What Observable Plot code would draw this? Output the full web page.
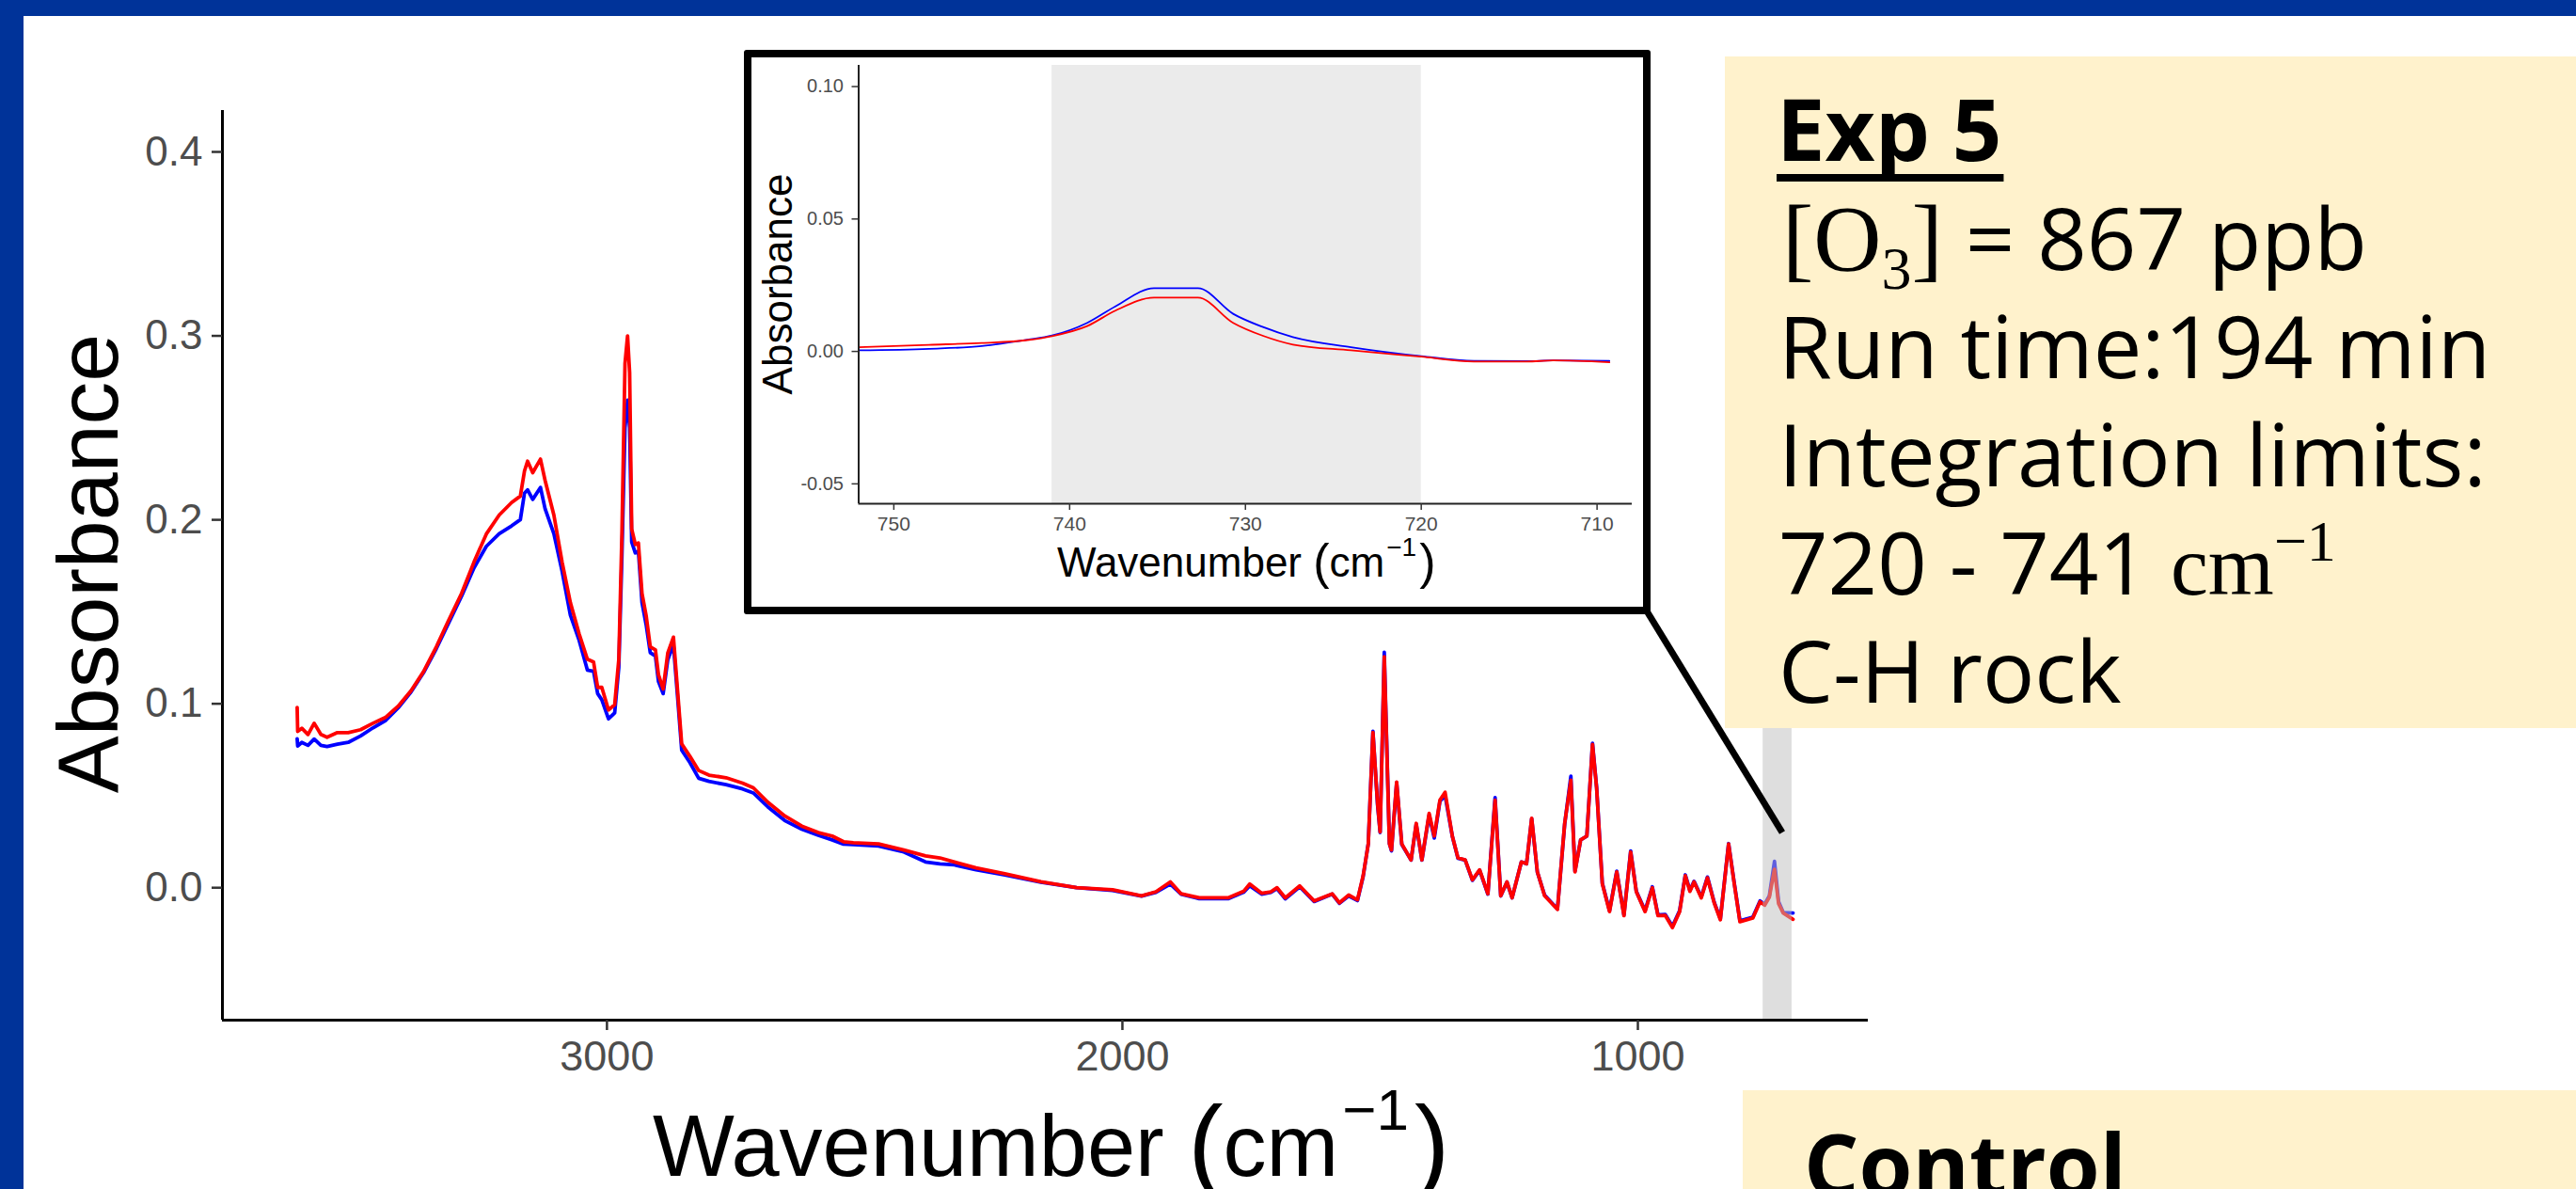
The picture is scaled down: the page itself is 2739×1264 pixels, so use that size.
<!DOCTYPE html>
<html><head><meta charset="utf-8">
<script src="https://cdn.jsdelivr.net/npm/d3@7"></script>
<script src="https://cdn.jsdelivr.net/npm/@observablehq/plot@0.6"></script>
<style>
html,body{margin:0;padding:0;background:#fff;}
#page{position:relative;width:2739px;height:1264px;overflow:hidden;background:#fff;}
.abs{position:absolute;}
</style></head>
<body><div id="page"></div>
<script>
// ---------------- DATA ----------------
// Main spectrum (wavenumber, cm^-1) and absorbance of the two traces
const wavenumber = [
 3601,3600,3592,3580,3568,3555,3543,3523,3502,3478,
 3454,3429,3405,3380,3356,3331,3307,3282,3258,3234,
 3209,3185,3168,3160,3154,3144,3129,3120,3103,3087,
 3071,3054,3038,3026,3018,3010,2997,2985,2977,2971,
 2965,2960,2956,2952,2945,2939,2932,2924,2916,2906,
 2900,2891,2882,2871,2863,2855,2839,2822,2802,2769,
 2737,2716,2688,2655,2622,2590,2563,2541,2522,2473,
 2424,2382,2354,2326,2284,2228,2158,2089,2019,1963,
 1935,1907,1886,1851,1795,1765,1753,1730,1712,1700,
 1684,1656,1628,1593,1579,1561,1544,1533,1523,1514,
 1505,1500,1492,1482,1478,1468,1458,1440,1430,1419,
 1405,1395,1384,1374,1360,1349,1335,1321,1307,1291,
 1277,1266,1254,1244,1226,1216,1206,1195,1181,1156,
 1142,1130,1122,1111,1099,1088,1080,1069,1055,1041,
 1027,1014,1003,986,972,961,947,933,919,908,
 899,891,877,865,852,840,824,813,802,777,
 763,754,745,735,727,718,699
];
const absRed = [
 0.098,0.085,0.0867,0.0833,0.0894,0.0833,0.0818,0.0843,0.0843,0.0859,
 0.0894,0.0927,0.0987,0.1071,0.1174,0.1310,0.1455,0.1600,0.1770,0.1923,
 0.2026,0.2094,0.2129,0.2265,0.2319,0.2256,0.2330,0.2214,0.2026,0.1770,
 0.1550,0.1380,0.1242,0.1227,0.1089,0.1089,0.0966,0.0995,0.1242,0.1924,
 0.2850,0.3000,0.2800,0.1950,0.1866,0.1874,0.1600,0.1480,0.1310,0.1293,
 0.1157,0.1080,0.1276,0.1362,0.1071,0.0782,0.0714,0.0637,0.0612,0.0598,
 0.0569,0.0543,0.0465,0.0390,0.0335,0.0300,0.0281,0.0250,0.0245,0.0238,
 0.0205,0.0173,0.0162,0.0140,0.0108,0.0076,0.0032,0.0000,-0.0011,-0.0044,
 -0.0022,0.0032,-0.0033,-0.0055,-0.0055,-0.0020,0.0020,-0.0030,-0.0022,0.0000,
 -0.0055,0.0010,-0.0072,-0.0033,-0.0082,-0.0040,-0.0066,0.0065,0.0238,0.0844,
 0.0455,0.0303,0.1256,0.0238,0.0205,0.0574,0.0238,0.0151,0.0350,0.0151,
 0.0404,0.0281,0.0476,0.0519,0.0281,0.0162,0.0151,0.0043,0.0097,-0.0033,
 0.0476,-0.0044,0.0032,-0.0055,0.0140,0.0130,0.0378,0.0086,-0.0044,-0.0118,
 0.0350,0.0584,0.0086,0.0260,0.0281,0.0779,0.0541,0.0021,-0.0130,0.0086,
 -0.0152,0.0194,-0.0022,-0.0130,0.0000,-0.0152,-0.0150,-0.0217,-0.0130,0.0065,
 -0.0020,0.0032,-0.0055,0.0054,-0.0082,-0.0174,0.0238,0.0021,-0.0185,-0.0165,
 -0.0077,-0.0095,-0.0052,0.0100,-0.0087,-0.0138,-0.0172
];
const absBlue = [
 0.081,0.077,0.0790,0.0774,0.0808,0.0774,0.0768,0.0780,0.0790,0.0825,
 0.0869,0.0910,0.0978,0.1065,0.1168,0.1300,0.1440,0.1585,0.1738,0.1856,
 0.1924,0.1967,0.2001,0.2145,0.2163,0.2111,0.2176,0.2060,0.1924,0.1720,
 0.1482,0.1345,0.1183,0.1176,0.1055,0.1022,0.0918,0.0950,0.1200,0.1800,
 0.2500,0.2650,0.2500,0.1880,0.1820,0.1830,0.1550,0.1430,0.1278,0.1260,
 0.1120,0.1055,0.1240,0.1320,0.1038,0.0748,0.0680,0.0595,0.0578,0.0560,
 0.0537,0.0515,0.0440,0.0365,0.0318,0.0285,0.0260,0.0237,0.0235,0.0227,
 0.0194,0.0140,0.0129,0.0124,0.0097,0.0070,0.0030,0.0000,-0.0015,-0.0046,
 -0.0025,0.0020,-0.0035,-0.0060,-0.0060,-0.0025,0.0010,-0.0035,-0.0025,-0.0005,
 -0.0060,0.0005,-0.0075,-0.0035,-0.0085,-0.0045,-0.0070,0.0060,0.0240,0.0850,
 0.0450,0.0300,0.1280,0.0240,0.0200,0.0570,0.0235,0.0150,0.0345,0.0150,
 0.0395,0.0270,0.0470,0.0500,0.0280,0.0160,0.0150,0.0040,0.0095,-0.0035,
 0.0490,-0.0045,0.0030,-0.0055,0.0140,0.0130,0.0375,0.0085,-0.0040,-0.0115,
 0.0345,0.0606,0.0090,0.0260,0.0280,0.0785,0.0545,0.0025,-0.0125,0.0090,
 -0.0148,0.0200,-0.0020,-0.0125,0.0005,-0.0148,-0.0145,-0.0210,-0.0125,0.0070,
 -0.0015,0.0035,-0.0050,0.0058,-0.0078,-0.0170,0.0240,0.0025,-0.0180,-0.0160,
 -0.0072,-0.0090,-0.0045,0.0143,-0.0075,-0.0135,-0.0138
];
const mainXDomain = [3746, 553];
const mainYDomain = [-0.072, 0.4225];
const mainXTicks = [3000, 2000, 1000];
const mainYTicks = [0, 0.1, 0.2, 0.3, 0.4];
const mainBand = [757, 701];

// Inset (zoom on the C-H rock band)
const insetWavenumber = [752,748,745,742.4,741,739,737.4,735.2,732.7,730.7,729,727.3,724,720,717,714,712.5,709.3];
const insetRed  = [0.0016,0.0025,0.0032,0.0043,0.0058,0.0096,0.0154,0.0203,0.0203,0.0108,0.0059,0.0026,0.0004,-0.0020,-0.0038,-0.0038,-0.0034,-0.0041];
const insetBlue = [0.0004,0.0010,0.0020,0.0044,0.0060,0.0108,0.0170,0.0239,0.0239,0.0142,0.0092,0.0054,0.0016,-0.0018,-0.0036,-0.0037,-0.0034,-0.0036];
const insetXDomain = [752, 708];
const insetYDomain = [-0.0575, 0.108];
const insetXTicks = [750, 740, 730, 720, 710];
const insetYTicks = [-0.05, 0, 0.05, 0.10];
const insetBand = [741, 720];

// Texts
const yTitle = "Absorbance";
const xTitleMain = "Wavenumber ";
const expTitle = "Exp 5";
const ozoneValue = " = 867 ppb";
const runTime = "Run time:194 min";
const integLabel = "Integration limits:";
const integRange = "720 - 741 ";
const modeLabel = "C-H rock";
const controlTitle = "Control";

// ---------------- DRAW ----------------
(function () {
const sans = "'Liberation Sans', Arial, sans-serif";
const serif = "'Liberation Serif', 'DejaVu Serif', serif";
const boxFont = "'Open Sans', 'Noto Sans', sans-serif";
const page = document.getElementById("page");

const mainBlueData = wavenumber.map((w, i) => ({w, a: absBlue[i]}));
const mainRedData = wavenumber.map((w, i) => ({w, a: absRed[i]}));

const mainPlot = Plot.plot({
  width: 2000, height: 1264,
  marginLeft: 236, marginRight: 14, marginTop: 117, marginBottom: 180,
  style: {background: "transparent", fontFamily: sans, color: "#4d4d4d"},
  x: {domain: mainXDomain, label: null},
  y: {domain: mainYDomain, label: null},
  marks: [
    Plot.line(mainBlueData, {x: "w", y: "a", stroke: "#0000ff", strokeWidth: 3.8}),
    Plot.line(mainRedData, {x: "w", y: "a", stroke: "#ff0000", strokeWidth: 3.8}),
    Plot.rect([{x1: mainBand[0], x2: mainBand[1]}], {x1: "x1", x2: "x2", y1: () => mainYDomain[0], y2: () => mainYDomain[1], fill: "#bdbdbd", fillOpacity: 0.5}),
    Plot.ruleX([mainXDomain[0]], {stroke: "#000", strokeWidth: 3}),
    Plot.ruleY([mainYDomain[0]], {stroke: "#000", strokeWidth: 3}),
    Plot.axisX({ticks: mainXTicks, tickSize: 11, tickPadding: 11, tickFormat: d => String(d), fontSize: 45, fill: "#4d4d4d", stroke: "#333", strokeWidth: 2.5, label: null}),
    Plot.axisY({ticks: mainYTicks, tickSize: 11, tickPadding: 10, tickFormat: d => d.toFixed(1), fontSize: 44, fill: "#4d4d4d", stroke: "#333", strokeWidth: 2.5, label: null})
  ]
});
mainPlot.style.position = "absolute"; mainPlot.style.left = "0px"; mainPlot.style.top = "0px";
page.appendChild(mainPlot);

// inset box
const box = document.createElement("div");
box.className = "abs";
Object.assign(box.style, {left: "791px", top: "53px", width: "964px", height: "600px", border: "8px solid #000", boxSizing: "border-box", background: "#fff", borderRadius: "3px"});
page.appendChild(box);

const insetBlueData = insetWavenumber.map((w, i) => ({w, a: insetBlue[i]}));
const insetRedData = insetWavenumber.map((w, i) => ({w, a: insetRed[i]}));
const insetPlot = Plot.plot({
  width: 964, height: 600,
  marginLeft: 121.5, marginRight: 20, marginTop: 16, marginBottom: 118,
  style: {background: "transparent", fontFamily: sans, color: "#4d4d4d"},
  x: {domain: insetXDomain, label: null},
  y: {domain: insetYDomain, label: null},
  marks: [
    Plot.rect([{x1: insetBand[0], x2: insetBand[1]}], {x1: "x1", x2: "x2", y1: () => insetYDomain[0], y2: () => insetYDomain[1], fill: "#ebebeb"}),
    Plot.line(insetBlueData, {x: "w", y: "a", stroke: "#0000ff", strokeWidth: 1.8, curve: "monotone-x"}),
    Plot.line(insetRedData, {x: "w", y: "a", stroke: "#ff0000", strokeWidth: 1.8, curve: "monotone-x"}),
    Plot.ruleX([insetXDomain[0]], {stroke: "#222", strokeWidth: 2}),
    Plot.ruleY([insetYDomain[0]], {stroke: "#222", strokeWidth: 2}),
    Plot.axisX({ticks: insetXTicks, tickSize: 7, tickPadding: 7, tickFormat: d => String(d), fontSize: 21, fill: "#4d4d4d", stroke: "#333", strokeWidth: 1.5, label: null}),
    Plot.axisY({ticks: insetYTicks, tickSize: 7, tickPadding: 9, tickFormat: d => d.toFixed(2), fontSize: 20, fill: "#4d4d4d", stroke: "#333", strokeWidth: 1.5, label: null})
  ]
});
insetPlot.style.position = "absolute"; insetPlot.style.left = "791px"; insetPlot.style.top = "53px";
page.appendChild(insetPlot);

// overlay: titles, connector, text boxes
const svg = d3.create("svg").attr("width", 2739).attr("height", 1264)
  .style("position", "absolute").style("left", "0px").style("top", "0px").style("overflow", "hidden");
page.appendChild(svg.node());

// main axis titles
svg.append("text").attr("transform", "translate(125,599) rotate(-90)").attr("text-anchor", "middle")
  .attr("font-family", sans).attr("font-size", 91.5).attr("fill", "#000").text(yTitle);
const xt = svg.append("text").attr("x", 694).attr("y", 1250).attr("text-anchor", "start")
  .attr("font-family", sans).attr("font-size", 92).attr("fill", "#000");
xt.append("tspan").text(xTitleMain);
xt.append("tspan").attr("font-size", 112).attr("dy", 4).text("(");
xt.append("tspan").attr("dy", -4).text("cm");
xt.append("tspan").attr("font-size", 62).attr("dx", 4).attr("dy", -49).text("\u22121");
xt.append("tspan").attr("font-size", 112).attr("dx", 6).attr("dy", 53).text(")");

// inset axis titles
svg.append("text").attr("transform", "translate(842,302) rotate(-90)").attr("text-anchor", "middle")
  .attr("font-family", sans).attr("font-size", 44).attr("fill", "#000").text(yTitle);
const xi = svg.append("text").attr("x", 1124).attr("y", 613).attr("text-anchor", "start")
  .attr("font-family", sans).attr("font-size", 44).attr("fill", "#000");
xi.append("tspan").text(xTitleMain);
xi.append("tspan").attr("font-size", 52).attr("dy", 2).text("(");
xi.append("tspan").attr("dy", -2).text("cm");
xi.append("tspan").attr("font-size", 28).attr("dx", 2).attr("dy", -22).text("\u22121");
xi.append("tspan").attr("font-size", 52).attr("dx", 3).attr("dy", 24).text(")");

// yellow boxes
svg.append("rect").attr("x", 1834).attr("y", 60).attr("width", 905).attr("height", 714).attr("fill", "#fff2cc");
svg.append("rect").attr("x", 1853).attr("y", 1159).attr("width", 886).attr("height", 120).attr("fill", "#fff2cc");

// connector line
svg.append("line").attr("x1", 1750).attr("y1", 648).attr("x2", 1895).attr("y2", 885)
  .attr("stroke", "#000").attr("stroke-width", 7);

const g = svg.append("g").attr("font-family", boxFont).attr("font-size", 92).attr("fill", "#000");
const t1 = g.append("text").attr("x", 1889).attr("y", 171).attr("font-weight", 700).text(expTitle);
const len1 = t1.node().getComputedTextLength();
g.append("rect").attr("x", 1889).attr("y", 185).attr("width", len1 + 2).attr("height", 8).attr("fill", "#000");

const t2 = g.append("text").attr("x", 1895).attr("y", 287);
t2.append("tspan").attr("font-family", serif).attr("font-size", 100).text("[O");
t2.append("tspan").attr("font-family", serif).attr("font-size", 64).attr("dy", 20).text("3");
t2.append("tspan").attr("font-family", serif).attr("font-size", 100).attr("dy", -20).text("]");
t2.append("tspan").text(ozoneValue);

g.append("text").attr("x", 1891).attr("y", 402).text(runTime);
g.append("text").attr("x", 1891).attr("y", 517).text(integLabel);
const t5 = g.append("text").attr("x", 1891).attr("y", 632);
t5.append("tspan").text(integRange);
t5.append("tspan").attr("font-family", serif).attr("font-size", 90).text("cm");
t5.append("tspan").attr("font-family", serif).attr("font-size", 62).attr("dy", -36).text("\u22121");
g.append("text").attr("x", 1891).attr("y", 747).text(modeLabel);

g.append("text").attr("x", 1918).attr("y", 1272).attr("font-weight", 700).text(controlTitle);

// slide frame (blue)
const frameTop = document.createElement("div"); frameTop.className = "abs";
Object.assign(frameTop.style, {left: "0px", top: "0px", width: "2739px", height: "17px", background: "#003399"});
page.appendChild(frameTop);
const frameLeft = document.createElement("div"); frameLeft.className = "abs";
Object.assign(frameLeft.style, {left: "0px", top: "0px", width: "25px", height: "1264px", background: "#003399"});
page.appendChild(frameLeft);
})();
</script>
</body></html>
